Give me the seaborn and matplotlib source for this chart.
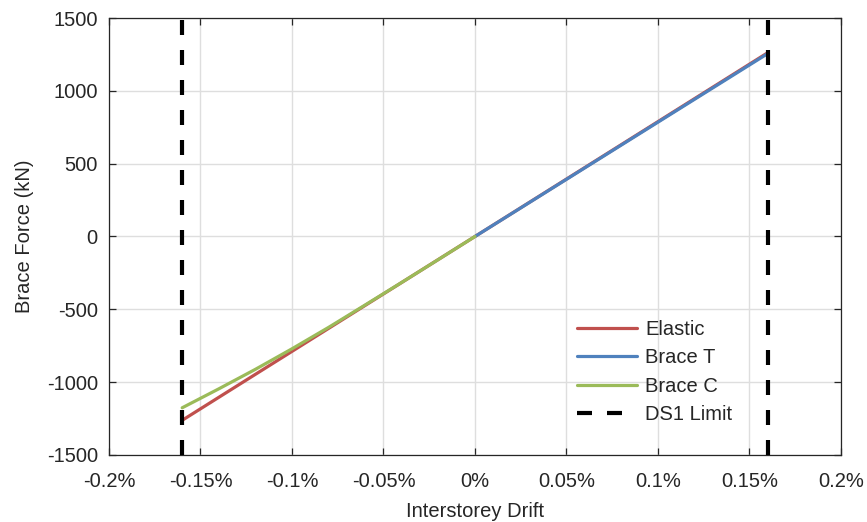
import matplotlib
matplotlib.use("Agg")
import matplotlib.pyplot as plt
import seaborn as sns
import pandas as pd

# Interstorey drift (%) and brace force (kN)
elastic_drift = [-0.16, 0.16]
elastic_force = [-1262, 1262]

brace_t_drift = [0.0, 0.16]
brace_t_force = [0, 1256]

brace_c_drift = [0.0, -0.02, -0.04, -0.06, -0.08, -0.10, -0.12, -0.14, -0.16]
brace_c_force = [0, -158, -315, -470, -624, -771, -912, -1046, -1176]

ds1_limit = [-0.16, 0.16]

x_ticks = [-0.2, -0.15, -0.1, -0.05, 0.0, 0.05, 0.1, 0.15, 0.2]
x_tick_labels = ["-0.2%", "-0.15%", "-0.1%", "-0.05%", "0%", "0.05%", "0.1%", "0.15%", "0.2%"]
y_ticks = [-1500, -1000, -500, 0, 500, 1000, 1500]

series_names = ["Elastic", "Brace T", "Brace C"]
series_colors = ["#C0504D", "#4F81BD", "#9BBB59"]

frames = []
for name, xs, ys in zip(series_names,
                        [elastic_drift, brace_t_drift, brace_c_drift],
                        [elastic_force, brace_t_force, brace_c_force]):
    frames.append(pd.DataFrame({"drift": xs, "force": ys, "series": name}))
df = pd.concat(frames, ignore_index=True)

sns.set_theme(style="white")
plt.rcParams["font.family"] = ["Liberation Sans", "DejaVu Sans"]

FS = 14.5
fig = plt.figure(figsize=(8.67, 5.22), dpi=100)
ax = fig.add_axes([0.1257, 0.1284, 0.8443, 0.8371])

sns.lineplot(data=df, x="drift", y="force", hue="series", hue_order=series_names,
             palette=dict(zip(series_names, series_colors)), units="series",
             sort=False, estimator=None, linewidth=2.3, ax=ax)

for xv in ds1_limit:
    ax.axvline(xv, color="black", linewidth=3.0, dashes=(3.6, 3.6),
               label="DS1 Limit" if xv == ds1_limit[0] else None, zorder=3)

ax.set_xlim(-0.2, 0.2)
ax.set_ylim(-1500, 1500)
ax.set_xticks(x_ticks)
ax.set_xticklabels(x_tick_labels)
ax.set_yticks(y_ticks)
ax.set_yticklabels([str(v) for v in y_ticks])

ax.grid(True, color="#DEDEDE", linewidth=1.0)
ax.set_axisbelow(True)
for side in ["top", "bottom", "left", "right"]:
    ax.spines[side].set_visible(True)
    ax.spines[side].set_color("#262626")
    ax.spines[side].set_linewidth(0.9)

ax.tick_params(axis="both", which="both", direction="in", length=5, width=0.9,
               color="#262626", labelsize=FS, labelcolor="#262626",
               top=True, right=True, bottom=True, left=True)
ax.tick_params(axis="x", pad=12)
ax.tick_params(axis="y", pad=8)

ax.set_xlabel("Interstorey Drift", fontsize=FS, color="#262626", labelpad=8.5)
ax.set_ylabel("Brace Force (kN)", fontsize=FS, color="#262626", labelpad=9)

handles, labels = ax.get_legend_handles_labels()
leg = ax.legend(handles, labels, loc="lower left", bbox_to_anchor=(0.639, 0.07),
                frameon=False, fontsize=FS, handlelength=3.0, handletextpad=0.4,
                labelspacing=0.47, borderaxespad=0.0, borderpad=0.0)

fig.savefig("out.png", dpi=100)
